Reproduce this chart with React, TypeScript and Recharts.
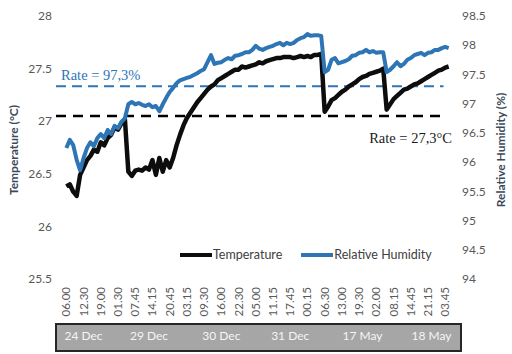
import React from 'react';
import { LineChart, Line, XAxis, YAxis, ReferenceLine, Legend } from 'recharts';

// x tick labels, one every 5 samples
const timeLabels = [
  '06.00', '12.30', '19.00', '01.30', '07.45', '14.15', '20.45', '03.15', '09.30', '16.00', '22.30', '05.00',
  '11.15', '17.45', '00.15', '06.30', '13.00', '19.30', '02.00', '08.15', '14.45', '21.15', '03.45',
];

const dayLabels = ['24 Dec', '29 Dec', '30 Dec', '31 Dec', '17 May', '18 May'];
// sample index where each day label sits
const dayTickIndex = [5, 24, 45, 65, 86, 106];

const seriesNames = ['Temperature', 'Relative Humidity'];

const temperature = [
  26.38, 26.4, 26.33, 26.29, 26.49, 26.56, 26.63, 26.67, 26.73, 26.71, 26.8, 26.77, 26.84, 26.87, 26.94, 26.92,
  26.98, 27.02, 26.52, 26.48, 26.53, 26.54, 26.53, 26.56, 26.54, 26.63, 26.49, 26.65, 26.52, 26.63, 26.56, 26.65,
  26.77, 26.87, 26.96, 27.03, 27.08, 27.13, 27.18, 27.22, 27.26, 27.3, 27.33, 27.35, 27.39, 27.41, 27.43, 27.45,
  27.47, 27.49, 27.49, 27.52, 27.51, 27.52, 27.53, 27.54, 27.56, 27.55, 27.57, 27.58, 27.59, 27.6, 27.6, 27.61,
  27.61, 27.61, 27.6, 27.61, 27.62, 27.61, 27.62, 27.61, 27.63, 27.63, 27.64, 27.09, 27.14, 27.2, 27.22, 27.25,
  27.28, 27.3, 27.33, 27.35, 27.37, 27.4, 27.42, 27.43, 27.45, 27.46, 27.47, 27.48, 27.5, 27.11, 27.16, 27.21,
  27.24, 27.27, 27.3, 27.31, 27.33, 27.35, 27.36, 27.38, 27.4, 27.42, 27.44, 27.46, 27.48, 27.49, 27.51, 27.52,
];

const humidity = [
  96.24, 96.38, 96.29, 96.04, 95.86, 96.07, 96.24, 96.34, 96.27, 96.41, 96.48, 96.41, 96.55, 96.48, 96.62, 96.58,
  96.69, 96.75, 96.99, 97.03, 96.99, 97.01, 96.98, 96.96, 96.99, 96.94, 96.96, 96.87, 96.99, 97.1, 97.2, 97.27,
  97.35, 97.4, 97.42, 97.44, 97.46, 97.49, 97.52, 97.56, 97.59, 97.71, 97.83, 97.68, 97.7, 97.71, 97.75, 97.78,
  97.76, 97.82, 97.83, 97.85, 97.88, 97.88, 97.92, 97.99, 97.94, 97.92, 97.95, 97.97, 97.99, 98.02, 98.04, 98.0,
  98.04, 98.02, 98.04, 98.09, 98.12, 98.14, 98.19, 98.16, 98.17, 98.17, 98.16, 97.54, 97.58, 97.75, 97.78, 97.69,
  97.71, 97.73, 97.76, 97.82, 97.83, 97.87, 97.88, 97.92, 97.88, 97.9, 97.87, 97.88, 97.88, 97.54, 97.58, 97.64,
  97.71, 97.64, 97.68, 97.75, 97.78, 97.83, 97.85, 97.87, 97.83, 97.87, 97.88, 97.92, 97.92, 97.95, 97.97, 97.95,
];

const tempTicks = [25.5, 26, 26.5, 27, 27.5, 28];
const humidityTicks = [94, 94.5, 95, 95.5, 96, 96.5, 97, 97.5, 98, 98.5];

// the rate lines (black one drawn where it sits in the picture)
const tempRate = 27.05;
const humidityRate = 97.3;

const data = temperature.map((t, i) => ({ i, temperature: t, humidity: humidity[i] }));
const timeTicks = timeLabels.map((_, k) => k * 5);

const FONT = 'Lato, "Open Sans", sans-serif';
const BLUE = '#2e75b6';

const TimeTick = (props: any) => {
  const { x, y, payload } = props;
  const label = timeLabels[timeTicks.indexOf(payload.value)];
  return (
    <text x={x} y={y} dy={4} transform={`rotate(-90, ${x}, ${y})`} textAnchor="end" fill="#595959" stroke="none" fontSize={11.5} fontFamily={FONT}>
      {label}
    </text>
  );
};

// day labels sit on a grey band under the time ticks; the band is drawn by the first tick
const DayTick = (props: any) => {
  const { x, y, payload, index } = props;
  const label = dayLabels[dayTickIndex.indexOf(payload.value)];
  return (
    <g>
      {index === 0 && <rect x={56} y={y + 1} width={405} height={27} fill="#a6a6a6" stroke="#262626" strokeWidth={2} />}
      <text x={x} y={y} dy={17} textAnchor="middle" fill="#f5f5f5" stroke="none" fontSize={12} fontFamily={FONT}>
        {label}
      </text>
    </g>
  );
};

const renderLegend = (props: any) => {
  const items = [...props.payload].sort((a: any, b: any) => seriesNames.indexOf(a.value) - seriesNames.indexOf(b.value));
  return (
    <div style={{ display: 'flex', alignItems: 'center', gap: 19, fontFamily: FONT, fontSize: 12.5, color: '#404040', lineHeight: '18px' }}>
      {items.map((entry: any) => (
        <div key={entry.value} style={{ display: 'flex', alignItems: 'center' }}>
          <span style={{ display: 'inline-block', width: 32, height: 4, background: entry.color, marginRight: 1 }} />
          <span>{entry.value}</span>
        </div>
      ))}
    </div>
  );
};

export default function App() {
  return (
    <div style={{ position: 'absolute', left: 0, top: 0, width: 512, height: 354, background: '#fff' }}>
      <LineChart width={512} height={354} data={data} margin={{ top: 16, right: 13, bottom: 1, left: 16 }}>
        <XAxis
          xAxisId="b" dataKey="i" type="number" domain={[-3, 114]} ticks={dayTickIndex} interval={0}
          tick={<DayTick />} tickLine={false} axisLine={false} tickSize={0} tickMargin={0} height={30}
        />
        <XAxis
          xAxisId="a" dataKey="i" type="number" domain={[-3, 114]} ticks={timeTicks} interval={0}
          tick={<TimeTick />} tickLine={false} axisLine={false} tickSize={0} tickMargin={8} height={44}
        />
        <YAxis
          yAxisId="temp" domain={[25.5, 28]} ticks={tempTicks} interval={0} width={40}
          tickLine={false} axisLine={false} tickSize={0} tickMargin={4}
          tick={{ fill: '#595959', fontSize: 12, fontFamily: FONT }}
          label={(p: any) => (
            <text
              x={p.viewBox.x - 3} y={150} transform={`rotate(-90, ${p.viewBox.x - 3}, 150)`}
              textAnchor="middle" dominantBaseline="central" fill="#3b4a5a" fontSize={12} fontWeight="bold" fontFamily={FONT}
            >
              Temperature (°C)
            </text>
          )}
        />
        <YAxis
          yAxisId="rh" orientation="right" domain={[94, 98.5]} ticks={humidityTicks} interval={0} width={40}
          tickLine={false} axisLine={false} tickSize={0} tickMargin={3}
          tick={{ fill: '#595959', fontSize: 12, fontFamily: FONT, textAnchor: 'start' }}
          label={(p: any) => (
            <text
              x={p.viewBox.x + 41} y={150} transform={`rotate(-90, ${p.viewBox.x + 41}, 150)`}
              textAnchor="middle" dominantBaseline="central" fill="#3b4a5a" fontSize={12} fontWeight="bold" fontFamily={FONT}
            >
              Relative Humidity (%)
            </text>
          )}
        />
        <ReferenceLine
          xAxisId="a" yAxisId="rh"
          segment={[{ x: -3, y: humidityRate }, { x: 109.5, y: humidityRate }]}
          stroke={BLUE} strokeWidth={2} strokeDasharray="10 6"
          label={(p: any) => (
            <text x={p.viewBox.x + 5} y={p.viewBox.y - 6} fill={BLUE} fontSize={14.5} fontFamily='"Liberation Serif", serif'>
              Rate = 97,3%
            </text>
          )}
        />
        <ReferenceLine
          xAxisId="a" yAxisId="temp"
          segment={[{ x: -3, y: tempRate }, { x: 108.5, y: tempRate }]}
          stroke="#000" strokeWidth={2.5} strokeDasharray="10 7"
          label={(p: any) => (
            <text x={452} y={p.viewBox.y + 27} textAnchor="end" fill="#1a1a1a" fontSize={14.5} fontFamily='"Liberation Serif", serif'>
              Rate = 27,3°C
            </text>
          )}
        />
        <Legend content={renderLegend} verticalAlign="middle" align="center" wrapperStyle={{ top: 246, left: 180, width: 'auto' }} />
        <Line
          xAxisId="a" yAxisId="temp" dataKey="temperature" name="Temperature" stroke="#0d0d0d"
          strokeWidth={4.5} dot={false} isAnimationActive={false} strokeLinejoin="round"
        />
        <Line
          xAxisId="a" yAxisId="rh" dataKey="humidity" name="Relative Humidity" stroke={BLUE}
          strokeWidth={4} dot={false} isAnimationActive={false} strokeLinejoin="round"
        />
      </LineChart>
    </div>
  );
}
